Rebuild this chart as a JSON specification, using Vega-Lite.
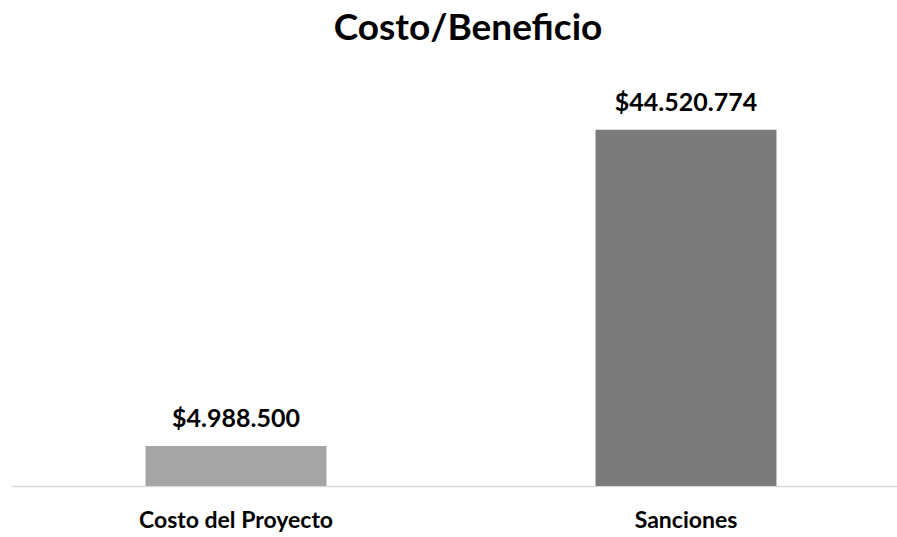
{
  "$schema": "https://vega.github.io/schema/vega-lite/v6.json",
  "width": 886,
  "height": 400,
  "autosize": {"type": "none"},
  "padding": {"left": 11, "top": 86, "right": 0, "bottom": 51},
  "background": "white",
  "title": {
    "text": "Costo/Beneficio",
    "font": "Lato",
    "fontSize": 37,
    "fontWeight": "bold",
    "color": "#000000",
    "anchor": "middle",
    "frame": "group",
    "offset": 38,
    "dx": 14
  },
  "data": {
    "values": [
      {"categoria": "Costo del Proyecto", "valor": 4988500, "etiqueta": "$4.988.500"},
      {"categoria": "Sanciones", "valor": 44520774, "etiqueta": "$44.520.774"}
    ]
  },
  "encoding": {
    "x": {
      "field": "categoria",
      "type": "nominal",
      "sort": null,
      "scale": {"range": [0, 900], "paddingInner": 0.598, "paddingOuter": 0.299},
      "axis": {
        "title": null,
        "labelAngle": 0,
        "labelFont": "Lato",
        "labelFontSize": 23,
        "labelFontWeight": "bold",
        "labelColor": "#000000",
        "labelPadding": 23,
        "labelLimit": 400,
        "ticks": false,
        "domainColor": "#d9d9d9",
        "domainWidth": 1.5
      }
    },
    "y": {
      "field": "valor",
      "type": "quantitative",
      "scale": {"domain": [0, 50000000]},
      "axis": null
    }
  },
  "layer": [
    {
      "mark": {"type": "bar"},
      "encoding": {
        "color": {
          "field": "categoria",
          "type": "nominal",
          "scale": {"domain": ["Costo del Proyecto", "Sanciones"], "range": ["#a5a5a5", "#7b7b7b"]},
          "legend": null
        }
      }
    },
    {
      "mark": {"type": "text", "baseline": "bottom", "dy": -14, "font": "Lato", "fontSize": 25, "fontWeight": "bold", "color": "#000000"},
      "encoding": {"text": {"field": "etiqueta"}}
    }
  ],
  "config": {"view": {"stroke": null}}
}
